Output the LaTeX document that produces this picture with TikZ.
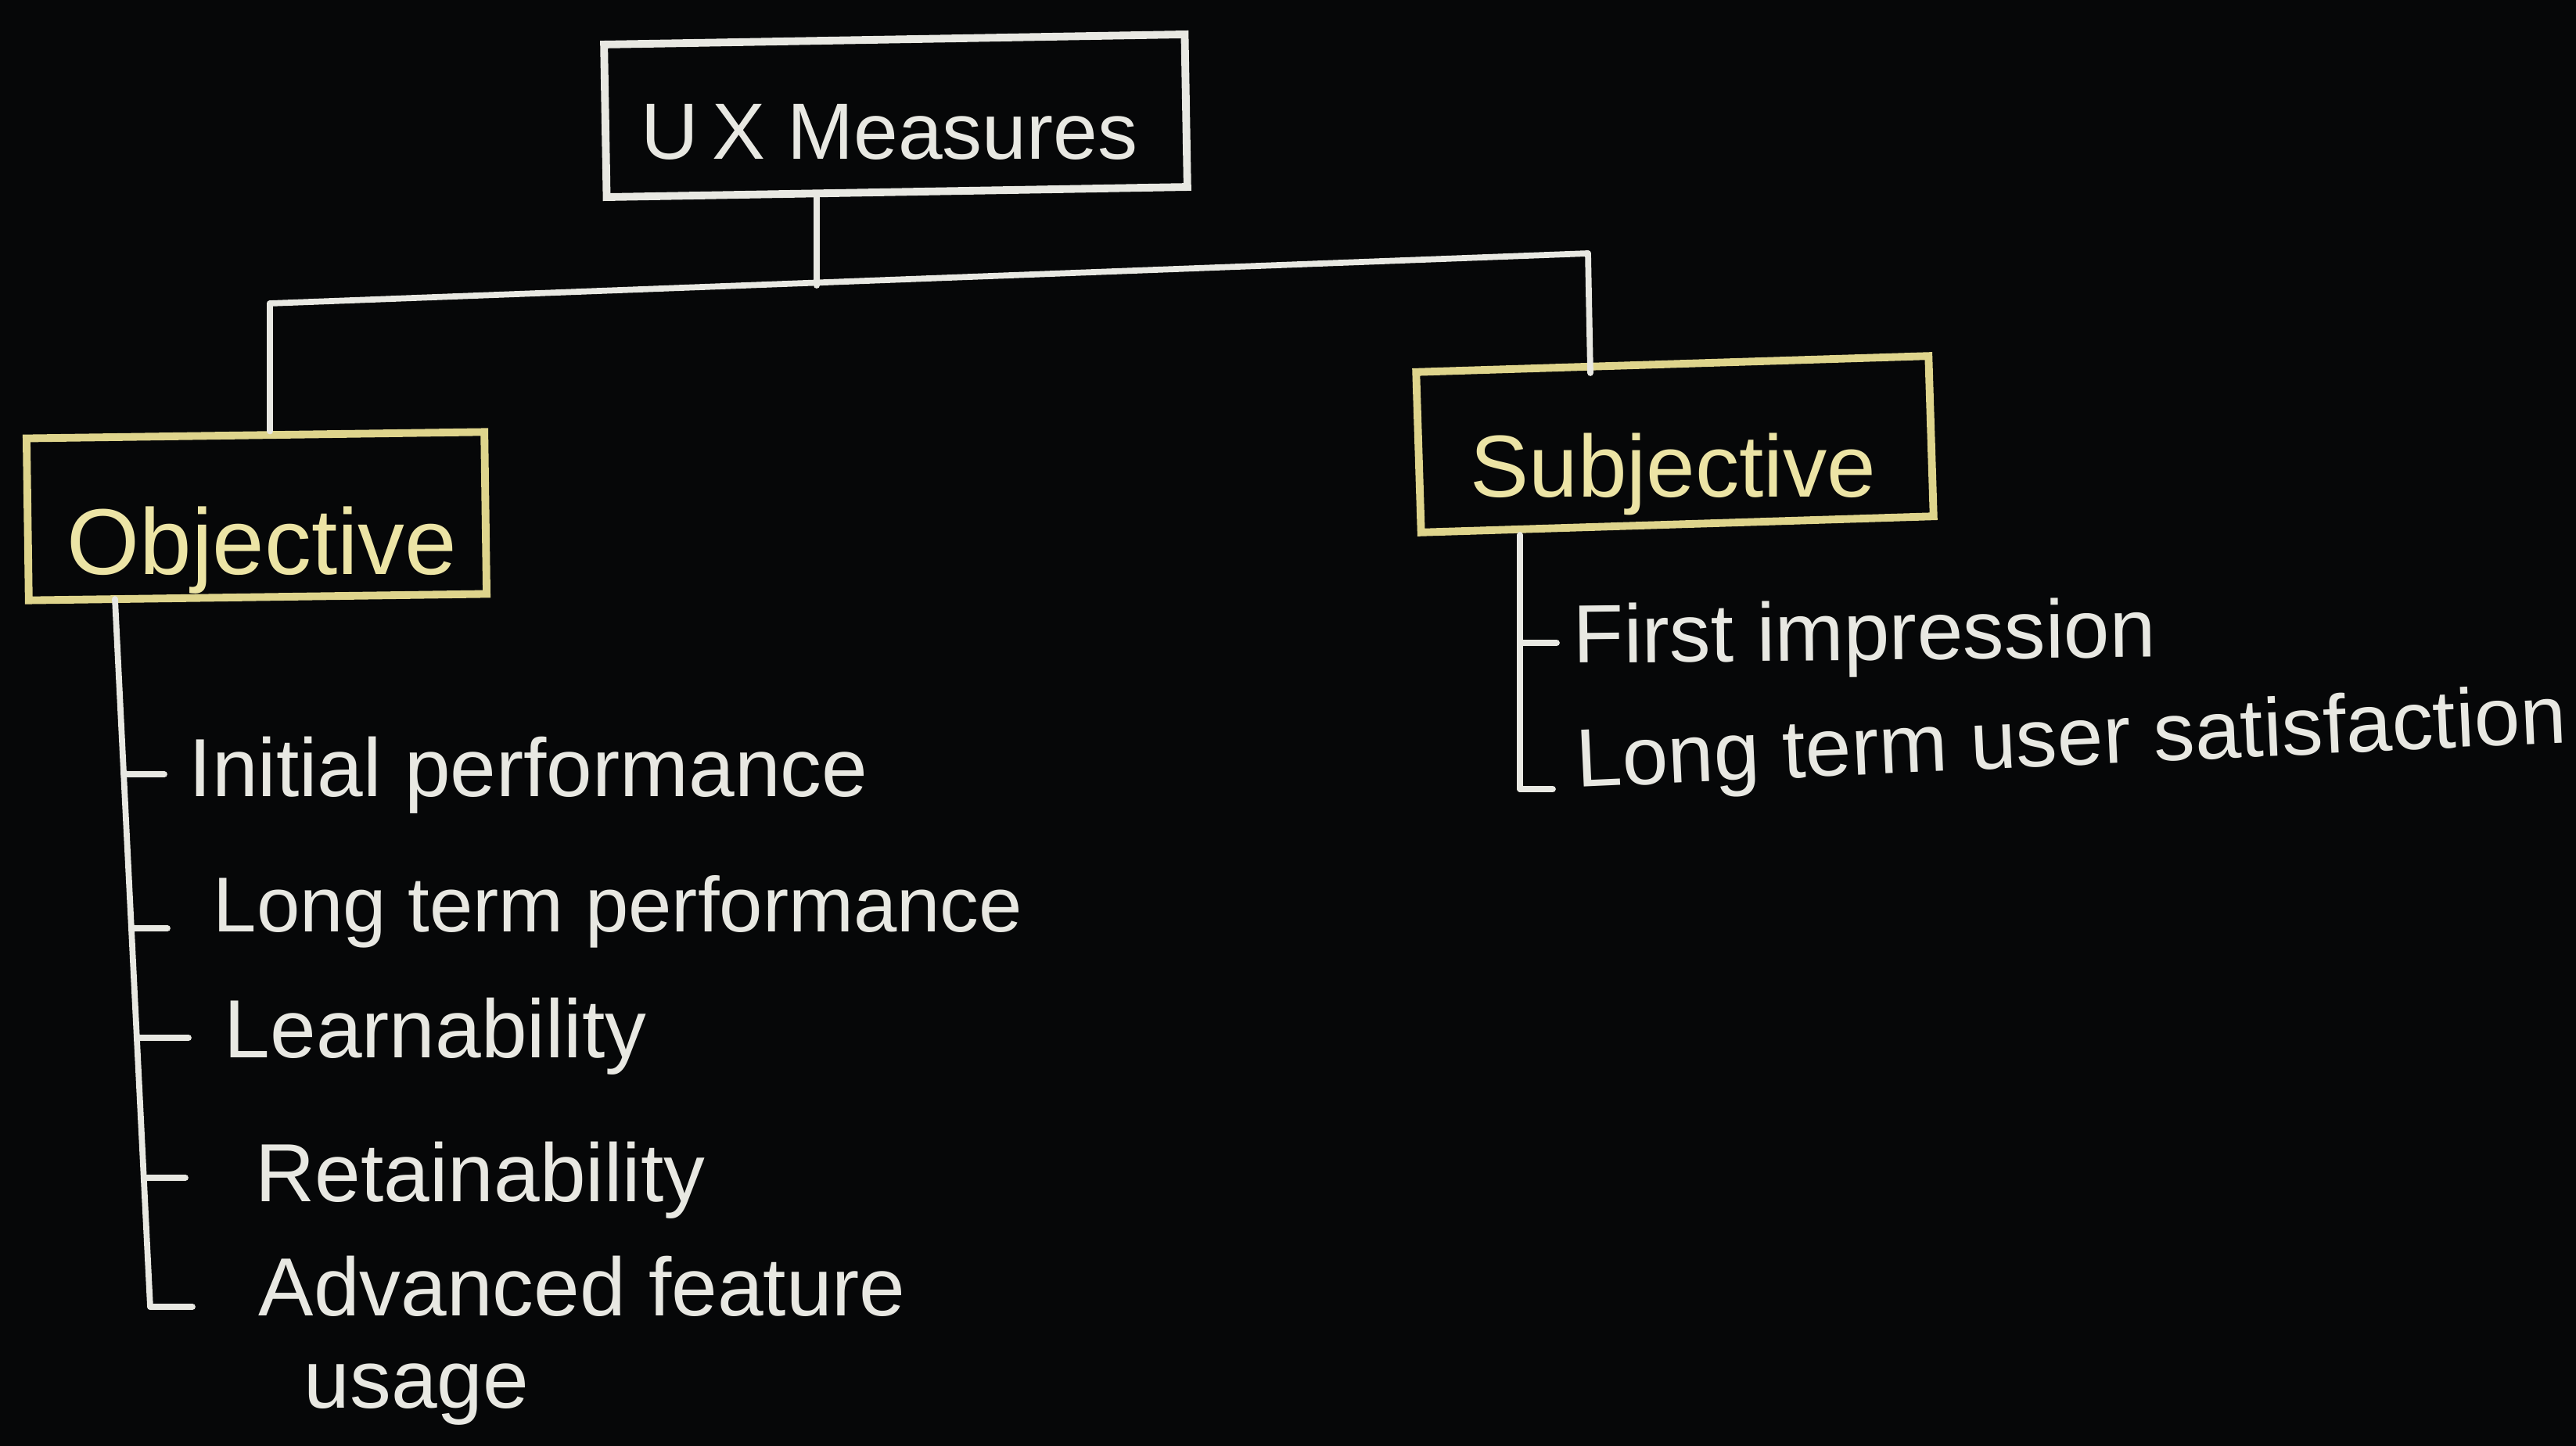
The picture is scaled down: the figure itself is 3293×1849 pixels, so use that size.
\documentclass[tikz,border=0pt]{standalone}
\usepackage{fontspec}
\setmainfont{Liberation Sans}
\definecolor{board}{RGB}{6,7,8}
\definecolor{chalkw}{RGB}{232,232,226}
\definecolor{chalky}{RGB}{222,212,140}
\definecolor{chalkyt}{RGB}{236,228,165}
\tikzset{
  wline/.style={draw=chalkw, line width=2.2pt, line cap=round, line join=round},
  ubox/.style={draw=chalkw, line width=2.8pt, rectangle, inner sep=0pt},
  ybox/.style={draw=chalky, line width=2.8pt, rectangle, inner sep=0pt},
  itemtext/.style={text=chalkw, anchor=base west, inner sep=0pt, font=\fontsize{30}{34}\selectfont},
}
\begin{document}
\begin{tikzpicture}[x=0.01cm, y=-0.01cm]
\useasboundingbox[fill=board] (0,0) rectangle (3293,1849);

% main boxes
\node[ubox, minimum width=7.42cm, minimum height=1.95cm, rotate=1] (ux) at (1145,148) {};
\node[text=chalkw, anchor=base, inner sep=0pt, font=\fontsize{29}{33}\selectfont] (uxt) at (1137,204) {U\,X Measures};

\node[ybox, minimum width=5.85cm, minimum height=2.07cm, rotate=0.8] (obj) at (328,660) {};
\node[text=chalkyt, anchor=base, inner sep=0pt, font=\fontsize{34}{38}\selectfont] (objt) at (335,734) {Objective};

\node[ybox, minimum width=6.55cm, minimum height=2.05cm, rotate=1.8] (subj) at (2141,568) {};
\node[text=chalkyt, anchor=base, inner sep=0pt, font=\fontsize{32}{36}\selectfont] (subjt) at (2139,636) {Subjective};

% top connectors
\coordinate (j) at (1044,365);
\coordinate (lc) at (345,388);
\coordinate (rc) at (2030,324);
\draw[wline] (ux.south -| j) -- (j);
\draw[wline] (lc) -- (rc);
\draw[wline] (lc) -- (lc |- obj.north);
\draw[wline] (rc) -- (2033,477);

% objective items
\node[itemtext] (o1) at (241,1018) {Initial performance};
\node[itemtext, font=\fontsize{28.3}{32}\selectfont] (o2) at (272,1191) {Long term performance};
\node[itemtext] (o3) at (286,1352) {Learnability};
\node[itemtext] (o4) at (326,1536) {Retainability};
\node[itemtext] (o5) at (330,1682) {Advanced feature};
\node[itemtext] (o6) at (388,1800) {usage};

\coordinate (otop) at (147,766);
\coordinate (a1) at (158,990);
\coordinate (a2) at (168,1187);
\coordinate (a3) at (175,1327);
\coordinate (a4) at (184,1506);
\coordinate (a5) at (192,1671);
\coordinate (b1) at (210,990);
\coordinate (b2) at (214,1187);
\coordinate (b3) at (241,1327);
\coordinate (b4) at (237,1506);
\coordinate (b5) at (246,1671);
\draw[wline] (otop) -- (a5);
\draw[wline] (a1) -- (b1);
\draw[wline] (a2) -- (b2);
\draw[wline] (a3) -- (b3);
\draw[wline] (a4) -- (b4);
\draw[wline] (a5) -- (b5);

% subjective items
\node[itemtext, rotate=0.6] (s1) at (2011,848) {First impression};
\node[itemtext, rotate=2.6] (s2) at (2016,1007) {Long term user satisfaction};
\coordinate (stop) at (1943,684);
\coordinate (c1) at (1943,822);
\coordinate (c2) at (1943,1009);
\coordinate (d1) at (1990,822);
\coordinate (d2) at (1985,1009);
\draw[wline] (stop) -- (c2);
\draw[wline] (c1) -- (d1);
\draw[wline] (c2) -- (d2);
\end{tikzpicture}
\end{document}
